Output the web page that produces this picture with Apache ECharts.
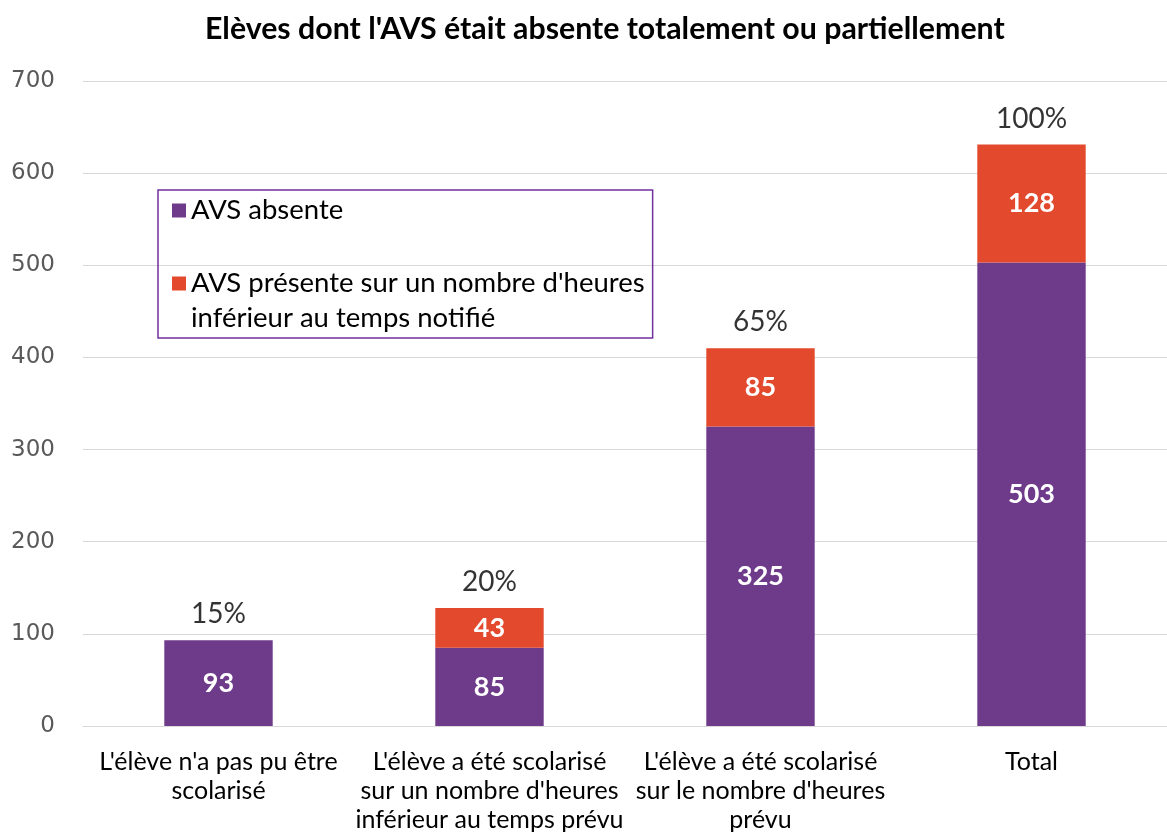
<!DOCTYPE html>
<html><head><meta charset="utf-8">
<script src="https://cdn.jsdelivr.net/npm/echarts@6/dist/echarts.min.js"></script>
<style>html,body{margin:0;padding:0;background:#fff}#c{width:1167px;height:838px}</style>
</head><body><div id="c"></div>
<script>
const title = "Elèves dont l'AVS était absente totalement ou partiellement";
const categories = [
  "L'élève n'a pas pu être\nscolarisé",
  "L'élève a été scolarisé\nsur un nombre d'heures\ninférieur au temps prévu",
  "L'élève a été scolarisé\nsur le nombre d'heures\nprévu",
  "Total"
];
const seriesNames = ["AVS absente", "AVS présente sur un nombre d'heures\ninférieur au temps notifié"];
const absente = [93, 85, 325, 503];
const presente = [null, 43, 85, 128];
const totals = [93, 128, 410, 631];
const pctLabels = ["15%", "20%", "65%", "100%"];
const yTicks = [0, 100, 200, 300, 400, 500, 600, 700];

const PURPLE = '#6E3A8A', ORANGE = '#E3492C';
const FONT = 'Lato';
const chart = echarts.init(document.getElementById('c'), null, {renderer: 'canvas'});
chart.setOption({
  animation: false,
  title: {text: title, left: 200, top: 9,
    textStyle: {fontFamily: FONT, fontWeight: 'bold', fontSize: 30.3, color: '#000'}},
  legend: {
    left: 158, top: 190, orient: 'vertical',
    borderColor: '#7030A0', borderWidth: 1.5,
    padding: [3, 8, 2, 14], itemGap: 3,
    itemWidth: 14, itemHeight: 14, icon: 'rect',
    data: seriesNames,
    formatter: function (n) { return n === seriesNames[1] ? ' \n' + n : n; },
    textStyle: {fontFamily: FONT, fontSize: 27.5, color: '#000', lineHeight: 35}
  },
  grid: {left: 83, right: -6, top: 81, bottom: 112, containLabel: false},
  xAxis: {
    type: 'category', data: categories,
    axisLine: {lineStyle: {color: '#d9d9d9', width: 1}},
    axisTick: {show: false},
    axisLabel: {interval: 0, fontFamily: FONT, fontSize: 25, color: '#000', lineHeight: 29, margin: 21}
  },
  yAxis: {
    type: 'value', min: 0, max: 700, interval: 100,
    axisLine: {show: false}, axisTick: {show: false},
    splitLine: {lineStyle: {color: '#d9d9d9', width: 1}},
    axisLabel: {fontFamily: 'DejaVu Sans', fontSize: 23, color: '#595959', margin: 28,
      formatter: function (v) { return yTicks.indexOf(v) >= 0 ? String(v) : ''; }}
  },
  series: [
    {name: seriesNames[0], type: 'bar', stack: 's', data: absente, barWidth: '40%',
      itemStyle: {color: PURPLE},
      label: {show: true, position: 'inside', color: '#fff', fontFamily: FONT, fontWeight: 'bold', fontSize: 27}},
    {name: seriesNames[1], type: 'bar', stack: 's', data: presente, barWidth: '40%',
      itemStyle: {color: ORANGE},
      label: {show: true, position: 'inside', color: '#fff', fontFamily: FONT, fontWeight: 'bold', fontSize: 27}},
    {name: 'pct', type: 'scatter', data: totals, symbolSize: 0, silent: true,
      label: {show: true, position: 'top', distance: 12, color: '#000', fontFamily: FONT, fontSize: 28,
        formatter: function (p) { return pctLabels[p.dataIndex]; }}}
  ]
});
</script></body></html>
